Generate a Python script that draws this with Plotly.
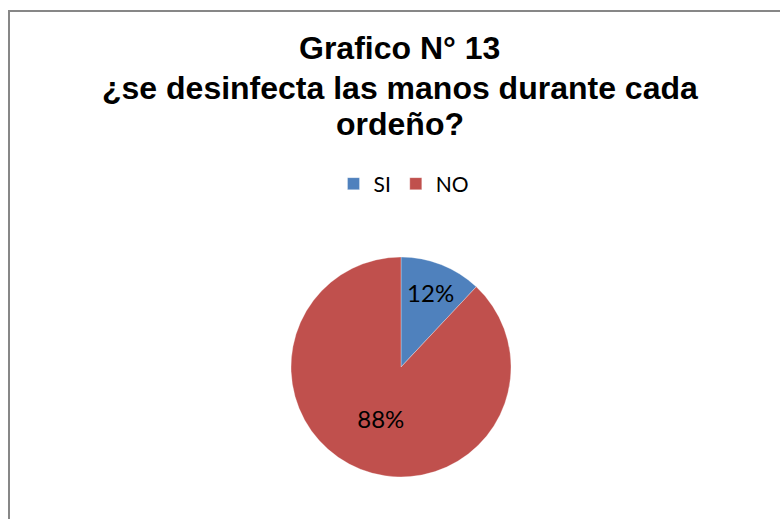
import plotly.graph_objects as go

labels = ["SI", "NO"]
values = [12, 88]
colors = ["#4F81BD", "#C0504D"]
title_lines = ["Grafico N° 13", "¿se desinfecta las manos durante cada", "ordeño?"]

W, H = 780, 519

fig = go.Figure()
fig.add_trace(go.Pie(
    labels=labels, values=values, sort=False, direction="clockwise", rotation=0,
    marker=dict(colors=colors, line=dict(color="rgba(255,255,255,0.6)", width=0.5)),
    texttemplate="%{percent:.0%}", textposition="inside", insidetextorientation="horizontal",
    textfont=dict(family="Lato", size=24, color="black"),
    domain=dict(x=[291 / W, 511 / W], y=[1 - 477 / H, 1 - 257 / H]),
    hoverinfo="label+percent",
))

ys = [47.5, 88, 124]
for t, yy in zip(title_lines, ys):
    fig.add_annotation(text="<b>" + t + "</b>", x=400 / W, y=1 - yy / H, xref="paper", yref="paper",
                       xanchor="center", yanchor="middle", showarrow=False,
                       font=dict(family="Liberation Sans", size=32, color="black"))

fig.add_shape(type="rect", xref="paper", yref="paper", x0=9 / W, x1=1.1, y0=-0.1, y1=1 - 11 / H,
              line=dict(color="#878787", width=2), fillcolor="rgba(0,0,0,0)")

fig.update_layout(
    width=W, height=H, margin=dict(l=0, r=0, t=0, b=0),
    paper_bgcolor="white", plot_bgcolor="white",
    showlegend=True,
    legend=dict(orientation="h", x=404 / W, xanchor="center", y=1 - 184 / H, yanchor="middle",
                font=dict(family="Lato", size=21, color="black"), traceorder="normal",
                itemwidth=30),
)

fig.write_html("out.html")
